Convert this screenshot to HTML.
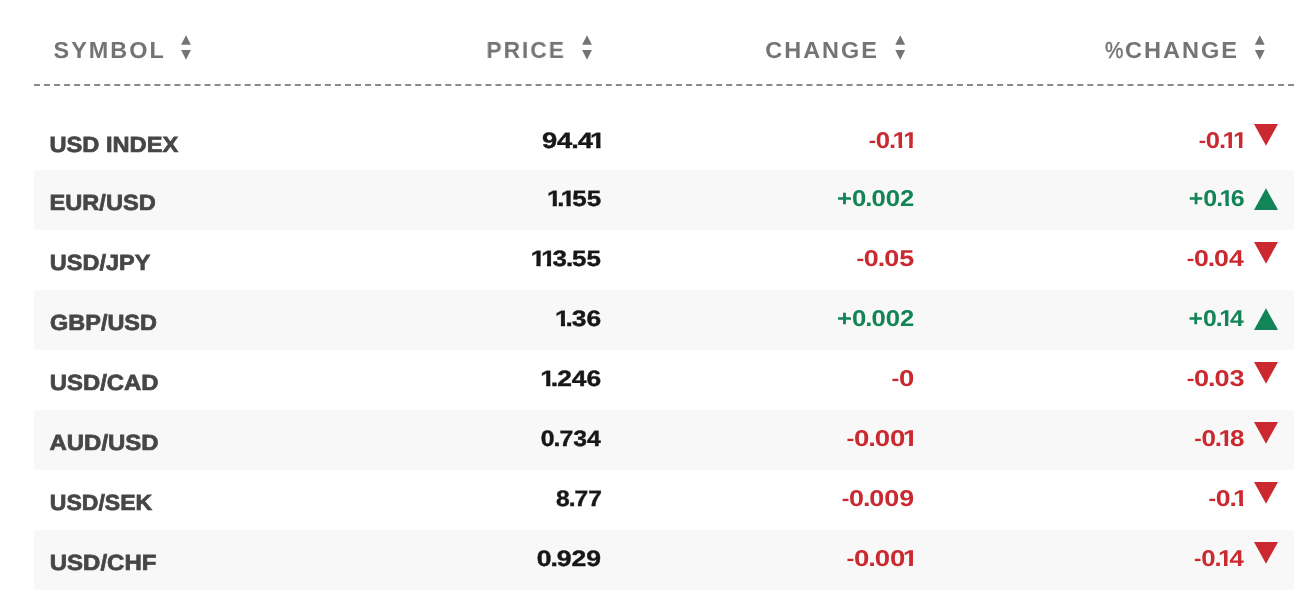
<!DOCTYPE html>
<html lang="en">
<head>
<meta charset="utf-8">
<title>Currencies</title>
<style>
html,body{margin:0;padding:0;background:#fff;}
body{width:1316px;height:608px;position:relative;overflow:hidden;font-family:"Liberation Sans",sans-serif;}
.tbl{position:absolute;left:0;top:0;width:1316px;height:608px;}
.stripe{position:absolute;left:34px;width:1260px;height:60px;background:#f8f8f8;}
.dash{position:absolute;left:34px;top:84px;width:1260px;height:2px;display:block;}
.t{position:absolute;white-space:nowrap;line-height:1;font-weight:700;margin:0;padding:0;will-change:transform;text-rendering:geometricPrecision;}
.t.l{transform-origin:0 0;}
.t.r{transform-origin:100% 0;}
.hd{color:#747474;font-size:23.1px;letter-spacing:2.0px;}
.hd .pc{font-weight:400;display:inline-block;transform:scaleX(0.88);transform-origin:0 50%;margin-right:-1.1px;letter-spacing:0;-webkit-text-stroke:0.45px #747474;}
.sy{color:#464646;font-size:21.9px;}
.pr{color:#171717;font-size:22.3px;}
.dn{color:#c9292f;font-size:22.8px;}
.up{color:#138358;font-size:22.8px;}
.t .o{display:inline-block;margin:0 -2.6px 0 -0.75px;clip-path:polygon(0 0,100% 0,100% 66%,67% 66%,67% 100%,42% 100%,42% 66%,0 66%);}
.pr .o{clip-path:polygon(0 0,100% 0,100% 66%,68.6% 66%,68.6% 100%,40.1% 100%,40.1% 66%,0 66%);}
.t .d{margin:0 -0.9px;}
.t .d + .o{margin-left:-2.3px;}
.t .m{font-size:0.86em;vertical-align:0.9px;margin-right:-0.3px;}
.sy{-webkit-text-stroke:0.7px #464646;}
.pr{-webkit-text-stroke:0.4px #171717;}
.sort{position:absolute;top:35px;width:11px;height:25px;}
.tri{position:absolute;width:24px;height:22px;}
</style>
</head>
<body>
<div class="tbl">
<div class="stripe" style="top:170px"></div>
<div class="stripe" style="top:290px"></div>
<div class="stripe" style="top:410px"></div>
<div class="stripe" style="top:530px"></div>
<svg class="dash" viewBox="0 0 1260 2"><line x1="0" y1="1" x2="1260" y2="1" stroke="#8a8a8a" stroke-width="2" stroke-dasharray="6 4.032"/></svg>
<div class="t l hd" id="h0" style="left:53px;top:38px;transform:translate(0.49px,0.92px) scaleX(1.0141)">SYMBOL</div>
<svg class="sort" style="left:181px" viewBox="0 0 11 25"><path transform="translate(0.00 0)" d="M5 0.2L9.9 9.8H0.1Z M0.1 15H9.9L5 24.8Z" fill="#747474"/></svg>
<div class="t l hd" id="h1" style="left:486px;top:38px;transform:translate(0.40px,0.92px) scaleX(0.9857)">PRICE</div>
<svg class="sort" style="left:582px" viewBox="0 0 11 25"><path transform="translate(0.00 0)" d="M5 0.2L9.9 9.8H0.1Z M0.1 15H9.9L5 24.8Z" fill="#747474"/></svg>
<div class="t l hd" id="h2" style="left:765px;top:38px;transform:translate(0.32px,0.92px) scaleX(1.0136)">CHANGE</div>
<svg class="sort" style="left:895px" viewBox="0 0 11 25"><path transform="translate(0.20 0)" d="M5 0.2L9.9 9.8H0.1Z M0.1 15H9.9L5 24.8Z" fill="#747474"/></svg>
<div class="t l hd" id="h3" style="left:1105px;top:38px;transform:translate(0.07px,0.92px) scaleX(1.0181)"><span class="pc">%</span>CHANGE</div>
<svg class="sort" style="left:1254px" viewBox="0 0 11 25"><path transform="translate(0.80 0)" d="M5 0.2L9.9 9.8H0.1Z M0.1 15H9.9L5 24.8Z" fill="#747474"/></svg>
<div class="t l sy" id="s0" style="left:49px;top:133px;transform:translate(0.47px,0.51px) scaleX(1.0796)">USD INDEX</div>
<div class="t r pr" id="p0" style="right:714px;top:130px;transform:translate(-0.07px,0.18px) scaleX(1.2241)">94<span class="d">.</span>4<span class="o">1</span></div>
<div class="t r dn" id="c0" style="right:401px;top:129px;transform:translate(-0.13px,0.27px) scaleX(1.1263)"><span class="m">-</span>0<span class="d">.</span><span class="o">1</span><span class="o">1</span></div>
<div class="t r dn" id="q0" style="right:71px;top:129px;transform:translate(-0.44px,0.27px) scaleX(1.1184)"><span class="m">-</span>0<span class="d">.</span><span class="o">1</span><span class="o">1</span></div>
<svg class="tri" style="left:1254px;top:124px" viewBox="0 0 24 22"><path d="M0 0H24L12 21.7Z" fill="#c9292f"/></svg>
<div class="t l sy" id="s1" style="left:49px;top:191px;transform:translate(0.59px,0.51px) scaleX(1.0769)">EUR/USD</div>
<div class="t r pr" id="p1" style="right:714px;top:188px;transform:translate(-0.75px,0.18px) scaleX(1.1624)"><span class="o">1</span><span class="d">.</span><span class="o">1</span>55</div>
<div class="t r up" id="c1" style="right:401px;top:187px;transform:translate(-0.47px,0.27px) scaleX(1.1238)">+0<span class="d">.</span>002</div>
<div class="t r up" id="q1" style="right:71px;top:187px;transform:translate(-0.51px,0.27px) scaleX(1.0941)">+0<span class="d">.</span><span class="o">1</span>6</div>
<svg class="tri" style="left:1254px;top:188px" viewBox="0 0 24 22"><path d="M12 0.3L24 22H0Z" fill="#138358"/></svg>
<div class="t l sy" id="s2" style="left:49px;top:251px;transform:translate(0.84px,0.51px) scaleX(1.0723)">USD/JPY</div>
<div class="t r pr" id="p2" style="right:714px;top:248px;transform:translate(-0.83px,0.18px) scaleX(1.1618)"><span class="o">1</span><span class="o">1</span>3<span class="d">.</span>55</div>
<div class="t r dn" id="c2" style="right:401px;top:247px;transform:translate(-0.74px,0.27px) scaleX(1.1801)"><span class="m">-</span>0<span class="d">.</span>05</div>
<div class="t r dn" id="q2" style="right:72px;top:247px;transform:translate(-0.13px,0.27px) scaleX(1.1687)"><span class="m">-</span>0<span class="d">.</span>04</div>
<svg class="tri" style="left:1254px;top:242px" viewBox="0 0 24 22"><path d="M0 0H24L12 21.7Z" fill="#c9292f"/></svg>
<div class="t l sy" id="s3" style="left:50px;top:311px;transform:translate(0.09px,0.51px) scaleX(1.0709)">GBP/USD</div>
<div class="t r pr" id="p3" style="right:715px;top:308px;transform:translate(-0.14px,0.18px) scaleX(1.1815)"><span class="o">1</span><span class="d">.</span>36</div>
<div class="t r up" id="c3" style="right:401px;top:307px;transform:translate(-0.47px,0.27px) scaleX(1.1238)">+0<span class="d">.</span>002</div>
<div class="t r up" id="q3" style="right:72px;top:307px;transform:translate(-0.27px,0.27px) scaleX(1.0809)">+0<span class="d">.</span><span class="o">1</span>4</div>
<svg class="tri" style="left:1254px;top:308px" viewBox="0 0 24 22"><path d="M12 0.3L24 22H0Z" fill="#138358"/></svg>
<div class="t l sy" id="s4" style="left:49px;top:371px;transform:translate(0.79px,0.51px) scaleX(1.0907)">USD/CAD</div>
<div class="t r pr" id="p4" style="right:714px;top:368px;transform:translate(-0.50px,0.18px) scaleX(1.1838)"><span class="o">1</span><span class="d">.</span>246</div>
<div class="t r dn" id="c4" style="right:401px;top:367px;transform:translate(-0.56px,0.27px) scaleX(1.2043)"><span class="m">-</span>0</div>
<div class="t r dn" id="q4" style="right:71px;top:367px;transform:translate(-0.26px,0.27px) scaleX(1.1857)"><span class="m">-</span>0<span class="d">.</span>03</div>
<svg class="tri" style="left:1254px;top:362px" viewBox="0 0 24 22"><path d="M0 0H24L12 21.7Z" fill="#c9292f"/></svg>
<div class="t l sy" id="s5" style="left:49px;top:431px;transform:translate(0.50px,0.51px) scaleX(1.0939)">AUD/USD</div>
<div class="t r pr" id="p5" style="right:715px;top:428px;transform:translate(-0.40px,0.18px) scaleX(1.1089)">0<span class="d">.</span>734</div>
<div class="t r dn" id="c5" style="right:400px;top:427px;transform:translate(-0.82px,0.27px) scaleX(1.2077)"><span class="m">-</span>0<span class="d">.</span>00<span class="o">1</span></div>
<div class="t r dn" id="q5" style="right:71px;top:427px;transform:translate(-0.57px,0.27px) scaleX(1.1393)"><span class="m">-</span>0<span class="d">.</span><span class="o">1</span>8</div>
<svg class="tri" style="left:1254px;top:422px" viewBox="0 0 24 22"><path d="M0 0H24L12 21.7Z" fill="#c9292f"/></svg>
<div class="t l sy" id="s6" style="left:49px;top:491px;transform:translate(0.84px,0.51px) scaleX(1.0513)">USD/SEK</div>
<div class="t r pr" id="p6" style="right:713px;top:488px;transform:translate(-0.67px,0.18px) scaleX(1.1024)">8<span class="d">.</span>77</div>
<div class="t r dn" id="c6" style="right:401px;top:487px;transform:translate(-0.35px,0.27px) scaleX(1.1780)"><span class="m">-</span>0<span class="d">.</span>009</div>
<div class="t r dn" id="q6" style="right:71px;top:487px;transform:translate(-0.43px,0.27px) scaleX(1.1658)"><span class="m">-</span>0<span class="d">.</span><span class="o">1</span></div>
<svg class="tri" style="left:1254px;top:482px" viewBox="0 0 24 22"><path d="M0 0H24L12 21.7Z" fill="#c9292f"/></svg>
<div class="t l sy" id="s7" style="left:49px;top:551px;transform:translate(0.78px,0.51px) scaleX(1.0961)">USD/CHF</div>
<div class="t r pr" id="p7" style="right:714px;top:548px;transform:translate(-0.89px,0.18px) scaleX(1.1914)">0<span class="d">.</span>929</div>
<div class="t r dn" id="c7" style="right:400px;top:547px;transform:translate(-0.82px,0.27px) scaleX(1.2077)"><span class="m">-</span>0<span class="d">.</span>00<span class="o">1</span></div>
<div class="t r dn" id="q7" style="right:72px;top:547px;transform:translate(-0.27px,0.27px) scaleX(1.1278)"><span class="m">-</span>0<span class="d">.</span><span class="o">1</span>4</div>
<svg class="tri" style="left:1254px;top:542px" viewBox="0 0 24 22"><path d="M0 0H24L12 21.7Z" fill="#c9292f"/></svg>
</div>
</body>
</html>
